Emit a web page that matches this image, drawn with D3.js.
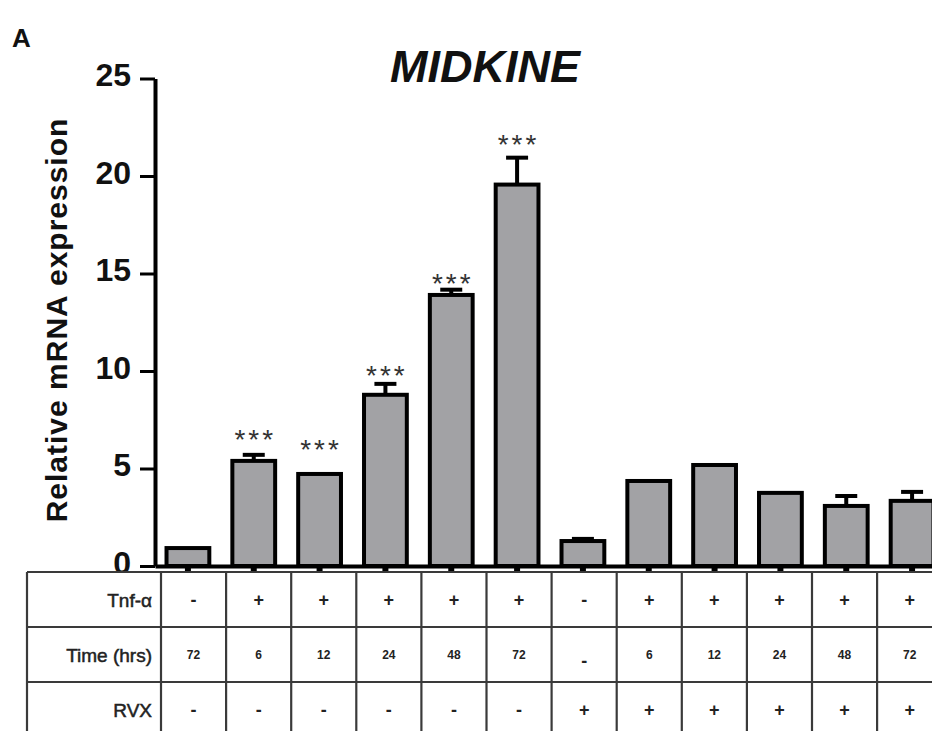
<!DOCTYPE html>
<html>
<head>
<meta charset="utf-8">
<script src="https://cdn.jsdelivr.net/npm/d3@7/dist/d3.min.js"></script>
<style>
  html, body { margin: 0; padding: 0; background: #fff; }
  svg { display: block; }
</style>
</head>
<body>
<script>
// ---- data ----
const categories = ["1","2","3","4","5","6","7","8","9","10","11","12"];
const values = [0.92, 5.39, 4.72, 8.78, 13.9, 19.56, 1.28, 4.36, 5.18, 3.75, 3.08, 3.34];
const errors = [0, 0.31, 0, 0.56, 0.27, 1.38, 0.11, 0, 0, 0, 0.51, 0.46];
const sigLabels = ["", "***", "***", "***", "***", "***", "", "", "", "", "", ""];
const sigLevels = [null, 6.0, 5.49, 9.28, 14.0, 21.13, null, null, null, null, null, null];
const yTicks = [0, 5, 10, 15, 20, 25];
const rowLabels = ["Tnf-\u03b1", "Time (hrs)", "RVX"];
const tnfRow = ["-", "+", "+", "+", "+", "+", "-", "+", "+", "+", "+", "+"];
const timeRow = ["72", "6", "12", "24", "48", "72", "-", "6", "12", "24", "48", "72"];
const rvxRow = ["-", "-", "-", "-", "-", "-", "+", "+", "+", "+", "+", "+"];
const titleText = "MIDKINE";
const yLabel = "Relative mRNA expression";
const panelLabel = "A";

// ---- layout ----
const W = 932, H = 731;
const svg = d3.select("body").append("svg").attr("width", W).attr("height", H)
  .style("font-family", "'Liberation Sans', Arial, sans-serif");
svg.append("rect").attr("width", W).attr("height", H).attr("fill", "#fff");

const y = d3.scaleLinear().domain([0, 25]).range([566, 78.5]);
const x = d3.scaleBand().domain(categories).range([155, 945]).paddingInner(0.35).paddingOuter(0.175);

// panel label and title
svg.append("text").attr("x", 12).attr("y", 47).attr("font-size", 26).attr("font-weight", "bold")
  .attr("fill", "#111").text(panelLabel);
svg.append("text").attr("x", 485).attr("y", 82).attr("text-anchor", "middle")
  .attr("font-size", 45).attr("font-weight", "bold").attr("font-style", "italic")
  .attr("fill", "#111").text(titleText);

// y label
svg.append("text").attr("transform", "translate(67,320) rotate(-90)")
  .attr("text-anchor", "middle").attr("font-size", 30).attr("font-weight", "bold")
  .attr("letter-spacing", "1px").attr("fill", "#111").text(yLabel);

// bars
const g = svg.append("g");
g.selectAll("rect.bar").data(values).join("rect").attr("class", "bar")
  .attr("x", (d, i) => x(categories[i]))
  .attr("y", d => y(d))
  .attr("width", x.bandwidth())
  .attr("height", d => y(0) - y(d))
  .attr("fill", "#a2a2a5").attr("stroke", "#000").attr("stroke-width", 4);

// error bars
const cx = i => x(categories[i]) + x.bandwidth() / 2;
values.forEach((v, i) => {
  const e = errors[i];
  if (!e) return;
  g.append("line").attr("x1", cx(i)).attr("x2", cx(i)).attr("y1", y(v)).attr("y2", y(v + e))
    .attr("stroke", "#000").attr("stroke-width", 4);
  g.append("line").attr("x1", cx(i) - 11).attr("x2", cx(i) + 11).attr("y1", y(v + e)).attr("y2", y(v + e))
    .attr("stroke", "#000").attr("stroke-width", 4);
});

// significance
values.forEach((v, i) => {
  if (!sigLabels[i]) return;
  g.append("text").attr("x", cx(i) + 1.5).attr("y", y(sigLevels[i])).attr("text-anchor", "middle")
    .attr("font-size", 28).attr("letter-spacing", "3px").attr("fill", "#333").text(sigLabels[i]);
});

// y axis
const yAxis = svg.append("g").attr("transform", "translate(155,0)")
  .call(d3.axisLeft(y).tickValues(yTicks).tickSize(15).tickSizeOuter(0).tickPadding(9));
yAxis.select(".domain").attr("stroke", "#000").attr("stroke-width", 4);
yAxis.selectAll(".tick line").attr("stroke", "#000").attr("stroke-width", 3);
yAxis.selectAll(".tick text").attr("font-size", 32).attr("font-weight", "bold")
  .attr("font-family", "'Liberation Sans', Arial, sans-serif").attr("fill", "#111").attr("dy", "0.22em");

// x axis
const xAxis = svg.append("g").attr("transform", "translate(0,566)")
  .call(d3.axisBottom(x).tickSize(6).tickSizeOuter(0).tickFormat(""));
xAxis.select(".domain").attr("stroke", "#000").attr("stroke-width", 4);
xAxis.selectAll(".tick line").attr("stroke", "#000").attr("stroke-width", 6);

// table
const tx = d3.scaleBand().domain(categories).range([161, 942.2]);
const ty = d3.scaleBand().domain(rowLabels).range([572, 737]);
const tbl = svg.append("g");
tbl.append("rect").attr("x", 27).attr("y", 572).attr("width", W).attr("height", H - 572).attr("fill", "#fff");
const hLines = rowLabels.map(r => ty(r)).concat([ty.range()[1]]);
tbl.selectAll("line.h").data(hLines).join("line").attr("class", "h")
  .attr("x1", 27).attr("x2", W).attr("y1", d => d).attr("y2", d => d)
  .attr("stroke", "#3a3a3a").attr("stroke-width", 2.2);
const vLines = [27].concat(categories.map(c => tx(c))).concat([tx.range()[1]]);
tbl.selectAll("line.v").data(vLines).join("line").attr("class", "v")
  .attr("x1", d => d).attr("x2", d => d).attr("y1", 572).attr("y2", H)
  .attr("stroke", "#3a3a3a").attr("stroke-width", 2.2);
tbl.selectAll("text.rl").data(rowLabels).join("text").attr("class", "rl")
  .attr("x", 152).attr("y", d => ty(d) + ty.bandwidth() / 2 + 7)
  .attr("text-anchor", "end").attr("font-size", 19).attr("fill", "#222")
  .attr("stroke", "#222").attr("stroke-width", 0.5).text(d => d);
const rows = [tnfRow, timeRow, rvxRow];
rows.forEach((row, ri) => {
  const isTime = ri === 1;
  tbl.selectAll("text.c" + ri).data(row).join("text").attr("class", "c" + ri)
    .attr("x", (d, i) => tx(categories[i]) + tx.bandwidth() / 2)
    .attr("y", d => ty(rowLabels[ri]) + ty.bandwidth() / 2 + (isTime ? (d !== "-" ? 4 : 12) : 6))
    .attr("text-anchor", "middle")
    .attr("font-size", d => (isTime && d !== "-") ? 12 : 18)
    .attr("font-weight", "bold").attr("fill", "#222").text(d => d);
});
</script>
</body>
</html>
